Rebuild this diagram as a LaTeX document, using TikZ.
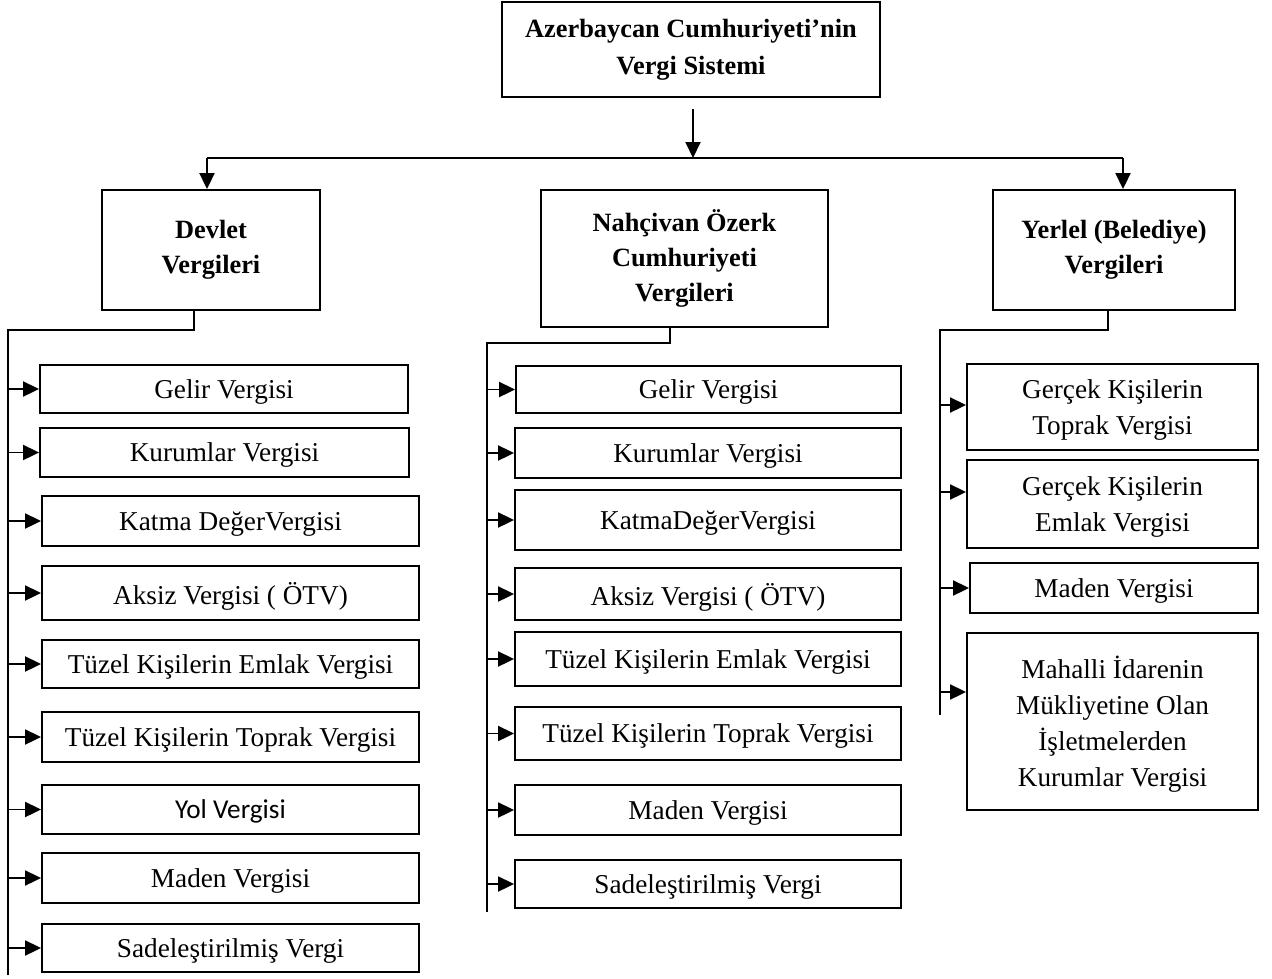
\documentclass[tikz,border=0pt]{standalone}
\usepackage{fontspec}
\setmainfont{Liberation Serif}
\newfontfamily\calibrifont{Carlito}
\usetikzlibrary{arrows.meta}

\begin{document}
\begin{tikzpicture}[
    x=0.02cm, y=-0.02cm,
    headbox/.style={
        draw, line width=1.1pt, align=center, inner sep=0pt,
        font=\fontsize{15}{20}\selectfont\bfseries
    },
    taxbox/.style={
        draw, line width=1.1pt, align=center, inner sep=0pt, text depth=0pt,
        font=\fontsize{15.5}{20.5}\selectfont
    },
    link/.style={
        line width=1.1pt
    },
    arrlink/.style={
        line width=1.1pt, -{Triangle[length=0.32cm, width=0.3cm]}
    }
]

% Layout: one unit = one pixel of the 1272 x 978 sheet, y going down
% (box sizes in cm: pixels x 0.02)
\useasboundingbox (0,0) rectangle (1272,978);

% -- Head boxes --
\node[headbox, minimum width=7.56cm, minimum height=1.9cm] (top) at (691, 49.5)
    {Azerbaycan Cumhuriyeti’nin\\[1pt]Vergi Sistemi};
\node[headbox, minimum width=4.36cm, minimum height=2.4cm] (devlet) at (211, 250)
    {Devlet\\Vergileri};
\node[headbox, minimum width=5.74cm, minimum height=2.74cm] (nahcivan) at (684.5, 258.5)
    {Nahçivan Özerk\\Cumhuriyeti\\Vergileri};
\node[headbox, minimum width=4.84cm, minimum height=2.4cm] (yerel) at (1114, 250)
    {Yerlel (Belediye)\\Vergileri};

% Split below the top box
\coordinate (topout) at (693, 109);
\coordinate (split) at (693, 158);
\coordinate (busl) at (207, 158);
\coordinate (busr) at (1123, 158);
\draw[arrlink] (topout) -- (split);
\draw[link] (busl) -- (busr);
\draw[arrlink] (busl) -- (busl |- devlet.north);
\draw[arrlink] (busr) -- (busr |- yerel.north);

% -- Devlet column --
\node[taxbox, minimum width=7.36cm, minimum height=0.96cm] (d1) at (224, 389) {Gelir Vergisi};
\node[taxbox, minimum width=7.38cm, minimum height=0.98cm] (d2) at (224.5, 452.5) {Kurumlar Vergisi};
\node[taxbox, minimum width=7.54cm, minimum height=1.0cm] (d3) at (230.5, 521) {Katma DeğerVergisi};
\node[taxbox, minimum width=7.54cm, minimum height=1.08cm] (d4) at (230.5, 593) {Aksiz Vergisi ( ÖTV)};
\node[taxbox, minimum width=7.54cm, minimum height=0.96cm] (d5) at (230.5, 664) {Tüzel Kişilerin Emlak Vergisi};
\node[taxbox, minimum width=7.54cm, minimum height=1.0cm] (d6) at (230.5, 737) {Tüzel Kişilerin Toprak Vergisi};
\node[taxbox, minimum width=7.54cm, minimum height=0.98cm] (d7) at (230.5, 809.5) {\calibrifont Yol Vergisi};
\node[taxbox, minimum width=7.54cm, minimum height=1.0cm] (d8) at (230.5, 878) {Maden Vergisi};
\node[taxbox, minimum width=7.54cm, minimum height=0.96cm] (d9) at (230.5, 948) {Sadeleştirilmiş Vergi};

\coordinate (dknee) at (194, 330);
\coordinate (dtop) at (8, 330);
\coordinate (dend) at (8, 975);
\draw[link] (devlet.south -| dknee) -- (dknee) -- (dtop) -- (dend);
\foreach \i in {1,...,9} {
    \draw[arrlink] (d\i.west -| dtop) -- (d\i.west);
}

% -- Nahcivan column --
\node[taxbox, minimum width=7.7cm, minimum height=0.94cm] (n1) at (708.5, 389.5) {Gelir Vergisi};
\node[taxbox, minimum width=7.72cm, minimum height=1.0cm] (n2) at (708, 453) {Kurumlar Vergisi};
\node[taxbox, minimum width=7.72cm, minimum height=1.2cm] (n3) at (708, 520) {KatmaDeğerVergisi};
\node[taxbox, minimum width=7.72cm, minimum height=1.04cm] (n4) at (708, 594) {Aksiz Vergisi ( ÖTV)};
\node[taxbox, minimum width=7.72cm, minimum height=1.08cm] (n5) at (708, 659) {Tüzel Kişilerin Emlak Vergisi};
\node[taxbox, minimum width=7.72cm, minimum height=1.06cm] (n6) at (708, 733.5) {Tüzel Kişilerin Toprak Vergisi};
\node[taxbox, minimum width=7.72cm, minimum height=1.0cm] (n7) at (708, 810) {Maden Vergisi};
\node[taxbox, minimum width=7.72cm, minimum height=0.96cm] (n8) at (708, 884) {Sadeleştirilmiş Vergi};

\coordinate (nknee) at (670, 343);
\coordinate (ntop) at (487, 343);
\coordinate (nend) at (487, 912);
\draw[link] (nahcivan.south -| nknee) -- (nknee) -- (ntop) -- (nend);
\foreach \i in {1,...,8} {
    \draw[arrlink] (n\i.west -| ntop) -- (n\i.west);
}

% -- Yerel column --
\node[taxbox, minimum width=5.82cm, minimum height=1.72cm] (y1) at (1112.5, 407) {Gerçek Kişilerin\\Toprak Vergisi};
\node[taxbox, minimum width=5.82cm, minimum height=1.76cm] (y2) at (1112.5, 504) {Gerçek Kişilerin\\Emlak Vergisi};
\node[taxbox, minimum width=5.76cm, minimum height=1.0cm] (y3) at (1114, 588) {Maden Vergisi};
\node[taxbox, minimum width=5.82cm, minimum height=3.54cm] (y4) at (1112.5, 721.5)
    {Mahalli İdarenin\\Mükliyetine Olan\\İşletmelerden\\Kurumlar Vergisi};

\coordinate (yknee) at (1108, 330);
\coordinate (ytop) at (940, 330);
\coordinate (yend) at (940, 715);
\draw[link] (yerel.south -| yknee) -- (yknee) -- (ytop) -- (yend);
\draw[arrlink] (ytop |- 0, 405) -- (y1.west |- 0, 405);
\draw[arrlink] (ytop |- 0, 492) -- (y2.west |- 0, 492);
\draw[arrlink] (ytop |- y3.west) -- (y3.west);
\draw[arrlink] (ytop |- 0, 692) -- (y4.west |- 0, 692);

\end{tikzpicture}
\end{document}
